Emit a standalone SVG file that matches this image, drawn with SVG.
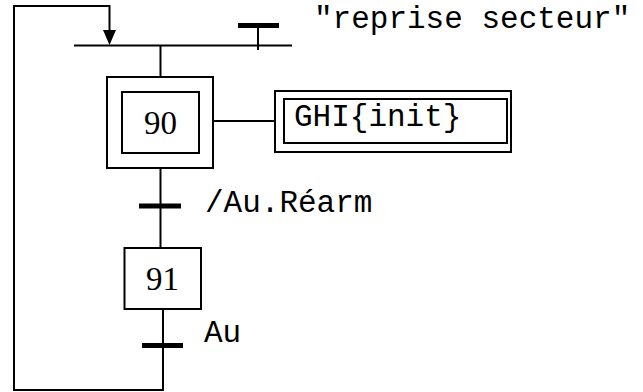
<svg xmlns="http://www.w3.org/2000/svg" width="643" height="392" viewBox="0 0 643 392">
  <style>
    .ln { stroke: #000; stroke-width: 2; fill: none; }
    .box { stroke: #000; stroke-width: 2; fill: #fff; }
    .bar { stroke: #000; stroke-width: 5; }
    .num { font-family: "Liberation Serif", "Times New Roman", serif; font-size: 33px; text-anchor: middle; fill: #000; }
    .mono { font-family: "Liberation Mono", "Courier New", monospace; font-size: 31px; fill: #000; }
  </style>

  <!-- connectors: links, loop-back and transitions -->
  <g id="connectors">
    <!-- loop back from step 91 to the entry bar -->
    <polyline class="ln" points="163,309 163,390 14,390 14,6 109.5,6 109.5,30"/>
    <path d="M103,30 L116,30 L109.5,45 Z" fill="#000"/>
    <!-- entry bar -->
    <line class="ln" x1="74" y1="45.5" x2="292" y2="45.5"/>
    <!-- "reprise secteur" transition -->
    <line class="ln" x1="258" y1="28" x2="258" y2="50"/>
    <line class="bar" x1="238" y1="25.5" x2="279" y2="25.5"/>
    <!-- entry bar to step 90 -->
    <line class="ln" x1="160.5" y1="45" x2="160.5" y2="77"/>
    <!-- step 90 to step 91 -->
    <line class="ln" x1="160.5" y1="168" x2="160.5" y2="248"/>
    <line class="bar" x1="139" y1="206" x2="181" y2="206"/>
    <!-- step 91 transition -->
    <line class="bar" x1="142" y1="345.5" x2="183" y2="345.5"/>
    <!-- step 90 to action -->
    <line class="ln" x1="213" y1="121" x2="275" y2="121"/>
  </g>

  <g id="step90">
    <rect class="box" x="107" y="77" width="106" height="91"/>
    <rect class="box" x="122" y="92" width="77" height="61"/>
    <text class="num" x="160.5" y="134">90</text>
  </g>

  <g id="action90">
    <rect class="box" x="275" y="91" width="236" height="61"/>
    <rect class="box" x="284" y="99" width="223" height="44"/>
    <text class="mono" x="294" y="126">GHI{init}</text>
  </g>

  <g id="step91">
    <rect class="box" x="124.5" y="248" width="76.5" height="61"/>
    <text class="num" x="162.5" y="290">91</text>
  </g>

  <g id="labels">
    <text class="mono" x="314" y="28">"reprise secteur"</text>
    <text class="mono" x="205" y="212">/Au.Réarm</text>
    <text class="mono" x="204" y="342">Au</text>
  </g>
</svg>
